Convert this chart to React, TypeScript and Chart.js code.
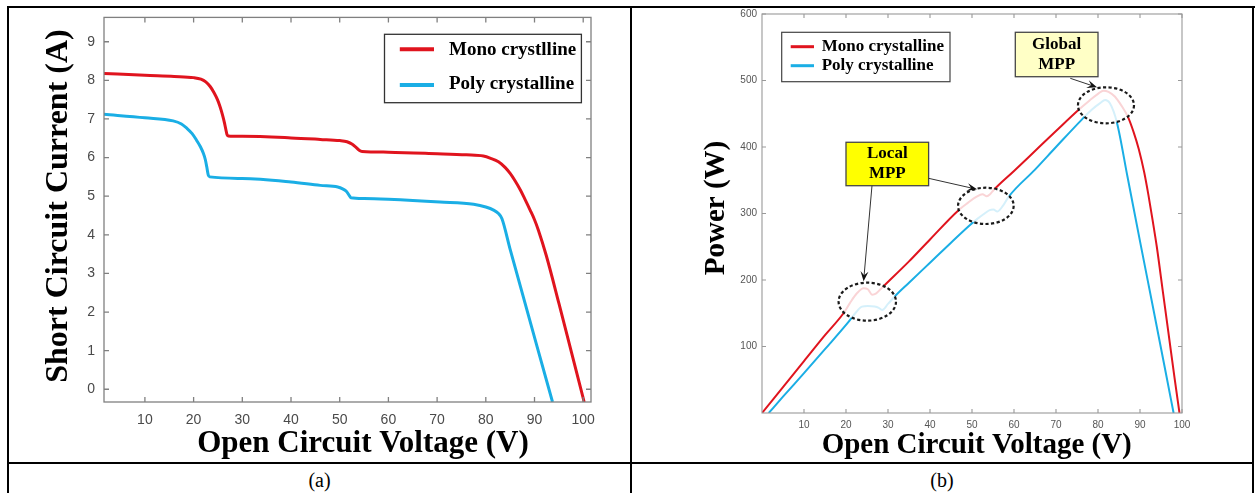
import React, { useEffect, useRef } from "react";
import { Chart, registerables } from "chart.js";

Chart.register(...registerables);

// ---------------- Panel (a): I-V curves ----------------
const ivMonoV = [1.6, 10, 16, 20, 21.5, 22.5, 23.4, 24.2, 24.9, 25.4, 25.9, 26.3, 26.6, 26.85, 27.1, 30, 40, 46, 50, 51.5, 52.5, 53.3, 54, 54.6, 60, 70, 76, 79.5, 81, 82.6, 84, 85, 86, 87.1, 88, 89.1, 90, 90.8, 92.4, 95, 97.5, 100.2];
const ivMonoI = [8.18, 8.13, 8.10, 8.07, 8.03, 7.96, 7.84, 7.68, 7.50, 7.33, 7.12, 6.92, 6.74, 6.60, 6.56, 6.55, 6.51, 6.47, 6.44, 6.41, 6.35, 6.27, 6.19, 6.16, 6.14, 6.10, 6.07, 6.04, 5.98, 5.89, 5.74, 5.59, 5.40, 5.16, 4.93, 4.64, 4.39, 4.12, 3.47, 2.23, 1.00, -0.33];
const ivPolyV = [1.6, 10, 15.8, 17.5, 18.6, 19.7, 20.6, 21.4, 22.0, 22.4, 22.7, 23.0, 23.3, 30, 40, 46, 49.6, 50.6, 51.4, 51.9, 52.3, 55, 60, 70.6, 77.5, 80, 81.6, 82.6, 83.3, 85, 93.7];
const ivPolyI = [7.12, 7.03, 6.95, 6.87, 6.76, 6.62, 6.45, 6.28, 6.11, 5.95, 5.76, 5.55, 5.50, 5.46, 5.37, 5.28, 5.24, 5.19, 5.12, 5.03, 4.96, 4.94, 4.92, 4.85, 4.79, 4.72, 4.64, 4.55, 4.42, 3.62, -0.33];
const ivXTicks = [10, 20, 30, 40, 50, 60, 70, 80, 90, 100];
const ivYTicks = [0, 1, 2, 3, 4, 5, 6, 7, 8, 9];
const ivLabels = ["Mono crystlline", "Poly crystalline"];

// ---------------- Panel (b): P-V curves ----------------
const pvMonoV = [0, 5, 10, 15, 19.4, 21, 22.6, 24.2, 25.2, 26.2, 27.2, 28.2, 29, 35, 40, 46.8, 49, 51, 52.5, 53.5, 54.3, 55.1, 60, 65, 70, 75.4, 78, 80, 81.3, 82.5, 84, 85.5, 87.1, 88.5, 89.7, 91, 92, 93, 94, 95.5, 97, 98.2, 99.4];
const pvMonoP = [0, 39, 78, 117, 150, 166, 180, 187.5, 186, 178, 180, 186, 191, 228, 261, 305, 316, 325, 329, 326, 329, 335, 364, 394, 424, 456, 470, 480, 484.7, 483, 476, 463, 445.6, 422, 397, 362, 328, 290, 250, 180, 110, 54, 0];
const pvPolyV = [1.6, 5, 10, 15, 20.6, 22.2, 23.8, 25.2, 26.8, 27.8, 28.6, 30, 31.7, 35, 40, 45, 49.6, 51.5, 53, 54.2, 55.1, 56, 57.3, 58.7, 65, 70, 76.2, 78.5, 80.5, 81.7, 82.8, 84.5, 87, 90.1, 93, 96, 98];
const pvPolyP = [0, 24.5, 60, 96, 137, 150, 160, 161, 160, 158, 155, 164, 176, 196, 226, 256, 283, 293, 300, 305, 306, 303, 311, 325, 366, 400, 441.6, 456, 466, 470.7, 466, 437, 356, 255, 162, 65, 0];
const pvXTicks = [10, 20, 30, 40, 50, 60, 70, 80, 90, 100];
const pvYTicks = [100, 200, 300, 400, 500, 600];
const pvLabels = ["Mono crystalline", "Poly crystalline"];

const RED = "#e0141e";
const BLUE = "#1aaee5";
const SERIF = "'Liberation Serif', 'Times New Roman', serif";
const SANS = "'Liberation Sans', Arial, sans-serif";

const toPts = (xs: number[], ys: number[]) => xs.map((x, i) => ({ x, y: ys[i] }));

// ---------- plugins ----------
const boxPlugin = {
  id: "matlabBox",
  afterDraw(chart: any, _a: any, opts: any) {
    const { ctx, chartArea } = chart;
    const { left, right, top, bottom } = chartArea;
    const xs = chart.scales.x;
    const ys = chart.scales.y;
    ctx.save();
    ctx.strokeStyle = opts.color;
    ctx.lineWidth = opts.width;
    ctx.beginPath();
    for (const t of xs.ticks) {
      const p = xs.getPixelForValue(t.value);
      ctx.moveTo(p, bottom);
      ctx.lineTo(p, bottom - opts.tick);
      ctx.moveTo(p, top);
      ctx.lineTo(p, top + opts.tick);
    }
    for (const t of ys.ticks) {
      const p = ys.getPixelForValue(t.value);
      ctx.moveTo(left, p);
      ctx.lineTo(left + opts.tick, p);
      ctx.moveTo(right, p);
      ctx.lineTo(right - opts.tick, p);
    }
    ctx.stroke();
    ctx.strokeRect(left, top, right - left, bottom - top);
    ctx.restore();
  },
};

const titlePlugin = {
  id: "axisTitles",
  afterDraw(chart: any, _a: any, opts: any) {
    const { ctx } = chart;
    for (const it of opts.items || []) {
      ctx.save();
      ctx.translate(it.x, it.y);
      if (it.rot) ctx.rotate(it.rot);
      ctx.font = it.font;
      ctx.fillStyle = "#000";
      ctx.textAlign = "center";
      ctx.textBaseline = "middle";
      ctx.fillText(it.text, 0, 0);
      ctx.restore();
    }
  },
};

const legendPlugin = {
  id: "boxLegend",
  afterDraw(chart: any, _a: any, opts: any) {
    const { ctx } = chart;
    const [x1, y1, x2, y2] = opts.box;
    ctx.save();
    ctx.fillStyle = "#fff";
    ctx.fillRect(x1, y1, x2 - x1, y2 - y1);
    ctx.strokeStyle = opts.borderColor;
    ctx.lineWidth = opts.borderWidth;
    ctx.strokeRect(x1, y1, x2 - x1, y2 - y1);
    chart.data.datasets.forEach((ds: any, i: number) => {
      ctx.strokeStyle = ds.borderColor;
      ctx.lineWidth = opts.lineWidth;
      ctx.beginPath();
      ctx.moveTo(opts.lineX[0], opts.rowY[i]);
      ctx.lineTo(opts.lineX[1], opts.rowY[i]);
      ctx.stroke();
      ctx.fillStyle = "#000";
      ctx.font = opts.font;
      ctx.textAlign = "left";
      ctx.textBaseline = "middle";
      ctx.fillText(ds.label, opts.textX, opts.textY[i]);
    });
    ctx.restore();
  },
};

function drawArrow(ctx: any, x1: number, y1: number, x2: number, y2: number) {
  const a = Math.atan2(y2 - y1, x2 - x1);
  const c = Math.cos(a);
  const s = Math.sin(a);
  const L = 10;
  const W = 4;
  ctx.beginPath();
  ctx.moveTo(x1, y1);
  ctx.lineTo(x2 - 0.6 * L * c, y2 - 0.6 * L * s);
  ctx.stroke();
  ctx.beginPath();
  ctx.moveTo(x2, y2);
  ctx.lineTo(x2 - L * c + W * s, y2 - L * s - W * c);
  ctx.lineTo(x2 - 0.6 * L * c, y2 - 0.6 * L * s);
  ctx.lineTo(x2 - L * c - W * s, y2 - L * s + W * c);
  ctx.closePath();
  ctx.fill();
}

const annotationPlugin = {
  id: "mppNotes",
  afterDatasetsDraw(chart: any, _a: any, opts: any) {
    const { ctx } = chart;
    const xs = chart.scales.x;
    const ys = chart.scales.y;
    ctx.save();
    for (const e of opts.ellipses || []) {
      const cx = xs.getPixelForValue(e.cx);
      const cy = ys.getPixelForValue(e.cy);
      const rx = Math.abs(xs.getPixelForValue(e.cx + e.rx) - cx);
      const ry = Math.abs(ys.getPixelForValue(e.cy + e.ry) - cy);
      ctx.beginPath();
      ctx.ellipse(cx, cy, rx, ry, 0, 0, Math.PI * 2);
      ctx.fillStyle = "rgba(255,255,255,0.82)";
      ctx.fill();
      ctx.setLineDash([3.2, 2.4]);
      ctx.lineWidth = 2.2;
      ctx.strokeStyle = "#1a1a1a";
      ctx.stroke();
      ctx.setLineDash([]);
    }
    for (const b of opts.boxes || []) {
      const bx1 = xs.getPixelForValue(b.x1);
      const bx2 = xs.getPixelForValue(b.x2);
      const by1 = ys.getPixelForValue(b.y1);
      const by2 = ys.getPixelForValue(b.y2);
      const l = Math.min(bx1, bx2), t = Math.min(by1, by2);
      const w = Math.abs(bx2 - bx1), h = Math.abs(by2 - by1);
      ctx.fillStyle = b.fill;
      ctx.fillRect(l, t, w, h);
      ctx.strokeStyle = "#474747";
      ctx.lineWidth = 1.3;
      ctx.strokeRect(l, t, w, h);
      ctx.fillStyle = "#000";
      ctx.font = opts.font;
      ctx.textAlign = "center";
      ctx.textBaseline = "middle";
      const mid = t + h / 2;
      b.lines.forEach((txt: string, i: number) => {
        ctx.fillText(txt, l + w / 2, mid + (i - (b.lines.length - 1) / 2) * 20);
      });
    }
    ctx.strokeStyle = "#333";
    ctx.fillStyle = "#111";
    ctx.lineWidth = 1;
    for (const ar of opts.arrows || []) {
      drawArrow(
        ctx,
        xs.getPixelForValue(ar.from[0]),
        ys.getPixelForValue(ar.from[1]),
        xs.getPixelForValue(ar.to[0]),
        ys.getPixelForValue(ar.to[1])
      );
    }
    ctx.restore();
  },
};

function lineDataset(label: string, pts: any[], color: string, width: number) {
  return {
    label,
    data: pts,
    borderColor: color,
    backgroundColor: color,
    borderWidth: width,
    pointRadius: 0,
    fill: false,
    cubicInterpolationMode: "monotone" as const,
  };
}

function configA(): any {
  return {
    type: "line",
    data: {
      datasets: [
        lineDataset(ivLabels[0], toPts(ivMonoV, ivMonoI), RED, 3),
        lineDataset(ivLabels[1], toPts(ivPolyV, ivPolyI), BLUE, 3),
      ],
    },
    options: {
      responsive: false,
      animation: false,
      devicePixelRatio: 1,
      layout: { padding: { left: 0, right: 39, top: 17, bottom: 0 } },
      scales: {
        x: {
          type: "linear",
          min: 1.6,
          max: 101.6,
          afterBuildTicks: (s: any) => { s.ticks = ivXTicks.map((v) => ({ value: v })); },
          afterFit: (s: any) => { s.height = 61; },
          grid: { display: false, drawTicks: false },
          border: { display: false },
          ticks: { font: { family: SANS, size: 14 }, color: "#4a4a4a", padding: 10, maxRotation: 0, autoSkip: false },
        },
        y: {
          type: "linear",
          min: -0.33,
          max: 9.63,
          afterBuildTicks: (s: any) => { s.ticks = ivYTicks.map((v) => ({ value: v })); },
          afterFit: (s: any) => { s.width = 104; },
          grid: { display: false, drawTicks: false },
          border: { display: false },
          ticks: { font: { family: SANS, size: 14 }, color: "#4a4a4a", padding: 9, autoSkip: false },
        },
      },
      plugins: {
        legend: { display: false },
        tooltip: { enabled: false },
        matlabBox: { color: "#808080", width: 1.3, tick: 5 },
        axisTitles: {
          items: [
            { text: "Short Circuit Current (A)", x: 59, y: 206, rot: -Math.PI / 2, font: `bold 32px ${SERIF}` },
            { text: "Open Circuit Voltage (V)", x: 363, y: 444, font: `bold 31px ${SERIF}` },
          ],
        },
        boxLegend: {
          box: [384.5, 34.3, 581.4, 102.7],
          borderColor: "#333",
          borderWidth: 1.3,
          lineX: [399.8, 434],
          rowY: [49.3, 85],
          textX: 449,
          textY: [50.5, 84.5],
          lineWidth: 4,
          font: `bold 19px ${SERIF}`,
        },
      },
    },
    plugins: [boxPlugin, legendPlugin, titlePlugin],
  };
}

function configB(): any {
  return {
    type: "line",
    data: {
      datasets: [
        lineDataset(pvLabels[0], toPts(pvMonoV, pvMonoP), RED, 2),
        lineDataset(pvLabels[1], toPts(pvPolyV, pvPolyP), BLUE, 2),
      ],
    },
    options: {
      responsive: false,
      animation: false,
      devicePixelRatio: 1,
      layout: { padding: { left: 0, right: 70, top: 14, bottom: 0 } },
      scales: {
        x: {
          type: "linear",
          min: 0,
          max: 100,
          afterBuildTicks: (s: any) => { s.ticks = pvXTicks.map((v) => ({ value: v })); },
          afterFit: (s: any) => { s.height = 50; },
          grid: { display: false, drawTicks: false },
          border: { display: false },
          ticks: { font: { family: SANS, size: 10 }, color: "#555", padding: 6, maxRotation: 0, autoSkip: false },
        },
        y: {
          type: "linear",
          min: 0,
          max: 600,
          afterBuildTicks: (s: any) => { s.ticks = pvYTicks.map((v) => ({ value: v })); },
          afterFit: (s: any) => { s.width = 130; },
          grid: { display: false, drawTicks: false },
          border: { display: false },
          ticks: { font: { family: SANS, size: 10 }, color: "#555", padding: 5, autoSkip: false },
        },
      },
      plugins: {
        legend: { display: false },
        tooltip: { enabled: false },
        matlabBox: { color: "#999", width: 1.1, tick: 4 },
        mppNotes: {
          font: `bold 17px ${SERIF}`,
          ellipses: [
            { cx: 25.07, cy: 167.4, rx: 6.83, ry: 28.6 },
            { cx: 53.3, cy: 311.5, rx: 6.62, ry: 27.3 },
            { cx: 81.9, cy: 462.7, rx: 6.67, ry: 27.1 },
          ],
          boxes: [
            { x1: 20.0, x2: 39.67, y1: 407.1, y2: 341.8, fill: "#ffff00", lines: ["Local", "MPP"] },
            { x1: 60.31, x2: 80.0, y1: 572.5, y2: 505.7, fill: "#ffffc6", lines: ["Global", "MPP"] },
          ],
          arrows: [
            { from: [73.4, 503.3], to: [79.76, 489.8] },
            { from: [39.67, 352.9], to: [51.19, 336.4] },
            { from: [26.19, 341.8], to: [24.19, 198.0] },
          ],
        },
        axisTitles: {
          items: [
            { text: "Power (W)", x: 85, y: 208, rot: -Math.PI / 2, font: `bold 29px ${SERIF}` },
            { text: "Open Circuit Voltage (V)", x: 344.7, y: 445.5, font: `bold 29px ${SERIF}` },
          ],
        },
        boxLegend: {
          box: [149.7, 32.3, 318, 81.7],
          borderColor: "#444",
          borderWidth: 1.2,
          lineX: [158.7, 182],
          rowY: [46.7, 65.7],
          textX: 189.7,
          textY: [46.2, 65.8],
          lineWidth: 3,
          font: `bold 17px ${SERIF}`,
        },
      },
    },
    plugins: [annotationPlugin, boxPlugin, legendPlugin, titlePlugin],
  };
}

const lineStyle = (l: number, t: number, w: number, h: number): React.CSSProperties => ({
  position: "absolute",
  left: l,
  top: t,
  width: w,
  height: h,
  background: "#000",
});

export default function App() {
  const refA = useRef<HTMLCanvasElement>(null);
  const refB = useRef<HTMLCanvasElement>(null);

  useEffect(() => {
    const a = new Chart(refA.current as HTMLCanvasElement, configA());
    const b = new Chart(refB.current as HTMLCanvasElement, configB());
    return () => {
      a.destroy();
      b.destroy();
    };
  }, []);

  const caption: React.CSSProperties = {
    position: "absolute",
    top: 470,
    fontFamily: SERIF,
    fontSize: 20,
    lineHeight: "20px",
    textAlign: "center",
    color: "#000",
  };

  return (
    <div style={{ position: "fixed", left: 0, top: 0, width: 1255, height: 493, background: "#fff", overflow: "hidden" }}>
      <canvas ref={refA} width={630} height={463} style={{ position: "absolute", left: 0, top: 0 }} />
      <canvas ref={refB} width={620} height={463} style={{ position: "absolute", left: 632, top: 0 }} />
      <div style={lineStyle(7, 6, 1248, 2)} />
      <div style={lineStyle(7, 6, 2, 487)} />
      <div style={lineStyle(630, 6, 2, 487)} />
      <div style={lineStyle(1252, 6, 2, 487)} />
      <div style={lineStyle(7, 462, 1247, 2)} />
      <div style={{ ...caption, left: 9, width: 621 }}>(a)</div>
      <div style={{ ...caption, left: 632, width: 620 }}>(b)</div>
    </div>
  );
}
